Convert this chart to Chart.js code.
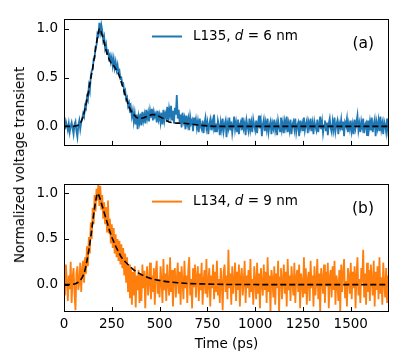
<!DOCTYPE html>
<html lang="en">
<head>
    <meta charset="UTF-8">
    <title>Normalized voltage transient</title>
    <script src="https://cdn.jsdelivr.net/npm/chart.js"></script>
    <style>
        body { margin: 0; background: #fff; }
        .wrap { position: relative; width: 415px; height: 364px; }
        .panel { position: absolute; left: 0; width: 415px; }
        #panelA { top: 0; height: 160px; }
        #panelB { top: 170px; height: 194px; }
        .ylab {
            position: absolute; left: 19px; top: 165px;
            transform: translate(-50%, -50%) rotate(-90deg);
            font: 13.5px 'DejaVu Sans', sans-serif; white-space: nowrap; color: #000;
        }
    </style>
</head>
<body>
    <div class="wrap">
        <div class="panel" id="panelA"><canvas id="chartA"></canvas></div>
        <div class="panel" id="panelB"><canvas id="chartB"></canvas></div>
        <div class="ylab">Normalized voltage transient</div>
    </div>

    <script>
        // sample times (ps)
        const times = [
            0,5,10,15,20,25,30,35,40,45,50,55,60,65,70,75,80,85,90,95,
            100,105,110,115,120,125,130,135,140,145,150,155,160,165,170,175,180,185,190,195,
            200,205,210,215,220,225,230,235,240,245,250,255,260,265,270,275,280,285,290,295,
            300,305,310,315,320,325,330,335,340,345,350,355,360,365,370,375,380,385,390,395,
            400,405,410,415,420,425,430,435,440,445,450,455,460,465,470,475,480,485,490,495,
            500,505,510,515,520,525,530,535,540,545,550,555,560,565,570,575,580,585,590,595,
            600,605,610,615,620,625,630,635,640,645,650,655,660,665,670,675,680,685,690,695,
            700,705,710,715,720,725,730,735,740,745,750,755,760,765,770,775,780,785,790,795,
            800,805,810,815,820,825,830,835,840,845,850,855,860,865,870,875,880,885,890,895,
            900,905,910,915,920,925,930,935,940,945,950,955,960,965,970,975,980,985,990,995,
            1000,1005,1010,1015,1020,1025,1030,1035,1040,1045,1050,1055,1060,1065,1070,1075,1080,1085,1090,1095,
            1100,1105,1110,1115,1120,1125,1130,1135,1140,1145,1150,1155,1160,1165,1170,1175,1180,1185,1190,1195,
            1200,1205,1210,1215,1220,1225,1230,1235,1240,1245,1250,1255,1260,1265,1270,1275,1280,1285,1290,1295,
            1300,1305,1310,1315,1320,1325,1330,1335,1340,1345,1350,1355,1360,1365,1370,1375,1380,1385,1390,1395,
            1400,1405,1410,1415,1420,1425,1430,1435,1440,1445,1450,1455,1460,1465,1470,1475,1480,1485,1490,1495,
            1500,1505,1510,1515,1520,1525,1530,1535,1540,1545,1550,1555,1560,1565,1570,1575,1580,1585,1590,1595,
            1600,1605,1610,1615,1620,1625,1630,1635,1640,1645,1650,1655,1660,1665,1670,1675,1680,1685,1690,1695,
            1700];

        // L135, d = 6 nm (measured)
        const valuesA = [
            0.02,-0.03,0.05,0.01,-0.04,0.03,-0.06,0.00,0.04,-0.02,-0.08,0.02,0.05,-0.05,-0.11,0.01,0.06,-0.03,0.04,0.08,
            0.13,0.10,0.21,0.19,0.30,0.27,0.41,0.36,0.51,0.57,0.58,0.69,0.70,0.82,0.83,0.95,0.93,1.06,0.97,1.04,
            0.98,0.88,0.92,0.80,0.84,0.74,0.79,0.70,0.73,0.66,0.71,0.62,0.69,0.60,0.66,0.58,0.63,0.55,0.57,0.49,
            0.50,0.43,0.44,0.35,0.37,0.28,0.30,0.21,0.24,0.14,0.19,0.10,0.16,0.05,0.13,0.02,0.12,-0.03,0.10,0.04,
            0.13,0.01,0.15,0.06,0.12,0.03,0.17,0.08,0.14,0.05,0.16,0.09,0.18,0.06,0.15,0.10,0.13,0.04,0.16,0.07,
            0.12,0.04,0.14,0.02,0.17,0.06,0.13,0.09,0.20,0.05,0.18,0.11,0.21,0.07,0.16,0.03,0.19,0.12,0.32,0.08,
            0.17,0.04,0.12,-0.01,0.14,0.05,0.09,-0.03,0.11,0.02,0.08,-0.04,0.10,0.03,0.06,-0.05,0.09,0.01,0.07,-0.02,
            0.05,-0.06,0.08,0.00,-0.03,0.06,-0.07,0.03,0.09,-0.02,0.04,-0.08,0.02,0.07,-0.04,0.05,-0.01,0.12,-0.05,0.03,
            -0.06,0.06,0.01,-0.09,0.04,-0.03,0.08,-0.05,0.02,0.06,-0.11,0.03,-0.02,0.09,-0.04,0.05,-0.07,0.01,0.10,-0.03,
            0.04,-0.05,0.07,-0.08,0.02,0.05,-0.04,0.09,-0.02,0.03,-0.09,0.06,0.00,-0.05,0.08,-0.03,0.04,-0.06,0.07,0.01,
            -0.04,0.06,-0.07,0.03,0.11,-0.02,0.05,-0.10,0.02,0.07,-0.05,0.04,-0.03,0.08,-0.06,0.01,0.05,-0.08,0.03,-0.02,
            0.07,-0.04,0.02,-0.09,0.06,0.00,-0.05,0.09,-0.03,0.04,-0.07,0.05,-0.01,0.10,-0.06,0.03,-0.04,0.07,-0.08,0.02,
            0.05,-0.03,0.08,-0.06,0.01,0.04,-0.10,0.06,-0.02,0.03,-0.05,0.09,-0.04,0.02,0.06,-0.07,0.04,-0.01,0.08,-0.05,
            0.03,-0.08,0.05,0.00,-0.04,0.07,-0.06,0.02,0.10,-0.03,0.05,-0.07,0.01,0.06,-0.05,0.04,-0.09,0.03,0.08,-0.02,
            -0.06,0.05,-0.03,0.09,-0.05,0.02,0.06,-0.08,0.03,-0.01,0.07,-0.04,0.05,-0.10,0.04,0.01,0.08,-0.06,0.03,-0.03,
            0.06,-0.05,0.02,-0.08,0.07,-0.02,0.04,0.11,-0.04,0.03,-0.06,0.05,-0.01,0.08,-0.07,0.02,0.04,-0.09,0.06,-0.03,
            0.05,-0.04,0.09,-0.06,0.02,0.07,-0.10,0.04,-0.02,0.06,-0.05,0.10,-0.03,0.03,-0.08,0.05,0.01,-0.06,0.08,-0.04,
            0.02];

        // L134, d = 9 nm (measured)
        const valuesB = [
            0.15,-0.12,0.22,0.04,-0.18,0.10,-0.05,0.25,-0.20,0.08,0.18,-0.10,-0.28,0.12,0.20,-0.06,0.03,0.24,-0.08,0.16,
            0.26,0.02,0.30,0.12,0.42,0.20,0.52,0.34,0.68,0.50,0.84,0.66,0.98,0.80,1.05,0.92,1.12,0.86,1.08,0.82,
            0.98,0.72,0.90,0.66,0.85,0.58,0.92,0.56,0.72,0.45,0.66,0.40,0.62,0.34,0.55,0.30,0.50,0.26,0.48,0.22,
            0.44,0.18,0.40,0.10,0.34,0.02,0.30,-0.08,0.22,-0.15,0.18,-0.22,0.14,-0.12,0.20,-0.25,0.10,-0.06,0.16,-0.20,
            0.12,-0.18,0.22,-0.04,0.15,-0.26,0.08,0.20,-0.12,0.02,0.24,-0.16,0.10,-0.08,0.18,-0.22,0.14,0.26,-0.10,0.06,
            -0.14,0.20,0.04,-0.20,0.28,-0.06,0.12,-0.18,0.22,0.00,-0.12,0.30,-0.08,0.16,-0.24,0.10,0.18,-0.14,0.06,0.24,
            -0.10,0.14,-0.22,0.20,0.02,-0.16,0.26,-0.04,0.10,-0.20,0.16,0.30,-0.12,0.06,-0.26,0.18,-0.02,0.22,-0.14,0.08,
            0.20,-0.18,0.12,-0.06,0.24,-0.22,0.04,0.16,-0.10,0.28,-0.14,0.02,0.18,-0.24,0.10,-0.04,0.22,-0.16,0.14,-0.08,
            0.26,-0.12,0.06,-0.20,0.18,0.02,-0.28,0.14,0.22,-0.08,0.10,-0.16,0.38,-0.04,0.12,-0.22,0.20,-0.10,0.04,0.24,
            -0.18,0.14,-0.06,0.22,-0.24,0.08,0.18,-0.12,0.02,0.26,-0.20,0.10,-0.04,0.16,-0.14,0.28,-0.08,0.06,-0.22,0.20,
            0.04,-0.16,0.24,-0.10,0.12,-0.26,0.18,0.00,-0.12,0.22,-0.06,0.14,-0.20,0.30,-0.08,0.10,-0.30,0.16,0.06,-0.14,
            0.20,-0.22,0.12,-0.04,0.26,-0.30,0.08,0.18,-0.16,0.04,0.22,-0.10,0.14,-0.24,0.28,-0.06,0.10,-0.18,0.20,0.02,
            -0.12,0.24,-0.20,0.08,0.16,-0.08,0.22,-0.26,0.12,0.02,-0.14,0.30,-0.10,0.18,-0.22,0.06,0.14,-0.18,0.26,-0.04,
            0.10,-0.24,0.20,-0.12,0.04,0.28,-0.16,0.12,-0.30,0.18,0.06,-0.10,0.22,-0.20,0.14,-0.02,0.24,-0.26,0.08,0.16,
            -0.14,0.20,-0.06,0.26,-0.22,0.10,0.02,-0.18,0.16,-0.30,0.22,-0.08,0.12,0.28,-0.14,0.04,-0.24,0.18,0.08,-0.10,
            0.24,-0.16,0.14,-0.04,0.20,-0.26,0.10,0.30,-0.12,0.06,-0.20,0.18,0.02,0.38,-0.14,0.12,-0.22,0.24,-0.08,0.16,
            -0.18,0.22,0.04,-0.12,0.26,-0.24,0.14,-0.06,0.20,-0.16,0.30,-0.10,0.08,-0.22,0.24,0.02,-0.14,0.18,-0.20,0.10,
            -0.04];

        // fitted curves (dashed)
        const fitTimesA = [0,50,60,70,80,90,100,110,120,130,140,150,160,170,180,185,190,200,210,220,230,240,250,260,270,280,290,
            300,310,320,330,340,350,360,370,380,390,400,410,420,430,440,450,460,470,480,490,500,510,520,530,540,550,560,570,
            600,640,680,720,750,800,1000,1200,1400,1700];
        const fitValuesA = [0,0,0.005,0.01,0.02,0.05,0.1,0.18,0.28,0.38,0.49,0.6,0.72,0.85,0.96,1.0,0.99,0.93,0.86,0.78,0.72,0.67,0.64,0.62,0.59,0.56,0.51,
            0.45,0.39,0.32,0.26,0.2,0.16,0.13,0.11,0.09,0.085,0.08,0.085,0.09,0.1,0.11,0.115,0.12,0.12,0.115,0.11,0.1,0.09,0.08,0.065,0.055,0.045,0.04,0.035,
            0.033,0.03,0.02,0.01,0.005,0,0,0,0,0];

        const fitTimesB = [0,20,40,60,70,80,90,100,110,120,130,140,150,160,170,177,180,190,200,210,220,230,240,250,260,270,280,290,
            300,320,340,360,380,400,425,450,475,500,550,600,650,700,800,900,1100,1400,1700];
        const fitValuesB = [0,0,0.003,0.01,0.02,0.035,0.06,0.1,0.16,0.26,0.38,0.52,0.68,0.84,0.96,1.0,0.99,0.93,0.86,0.79,0.72,0.65,0.58,0.52,0.47,0.42,0.38,0.34,
            0.30,0.25,0.21,0.17,0.14,0.115,0.09,0.07,0.055,0.045,0.03,0.02,0.012,0.008,0.003,0.001,0,0,0];

        const xTicks = [0, 250, 500, 750, 1000, 1250, 1500];
        const yTicks = [0, 0.5, 1.0];

        Chart.defaults.font.family = "'DejaVu Sans', sans-serif";
        Chart.defaults.font.size = 13.5;
        Chart.defaults.color = '#000';

        // box, inward ticks, legend and panel tag
        const framePlugin = {
            id: 'frame',
            afterDraw(chart, args, opts) {
                const { ctx, chartArea: a, scales } = chart;
                ctx.save();
                ctx.strokeStyle = '#000';
                ctx.lineWidth = 1;
                ctx.strokeRect(Math.round(a.left) + 0.5, Math.round(a.top) + 0.5,
                    Math.round(a.right - a.left) - 1, Math.round(a.bottom - a.top) - 1);
                ctx.beginPath();
                scales.x.ticks.forEach(t => {
                    const px = Math.round(scales.x.getPixelForValue(t.value)) + 0.5;
                    ctx.moveTo(px, a.bottom);
                    ctx.lineTo(px, a.bottom - 5);
                });
                scales.y.ticks.forEach(t => {
                    const py = Math.round(scales.y.getPixelForValue(t.value)) + 0.5;
                    ctx.moveTo(a.left, py);
                    ctx.lineTo(a.left + 5, py);
                });
                ctx.stroke();

                // legend
                const ly = a.top + 17.5;
                ctx.strokeStyle = opts.color;
                ctx.lineWidth = 2;
                ctx.beginPath();
                ctx.moveTo(a.left + 88, ly);
                ctx.lineTo(a.left + 118, ly);
                ctx.stroke();
                ctx.fillStyle = '#000';
                ctx.textBaseline = 'middle';
                ctx.textAlign = 'left';
                let tx = a.left + 129;
                opts.parts.forEach(p => {
                    ctx.font = (p.italic ? 'italic ' : '') + "13.5px 'DejaVu Sans', sans-serif";
                    ctx.fillText(p.text, tx, ly);
                    tx += ctx.measureText(p.text).width;
                });
                ctx.font = "15.5px 'DejaVu Sans', sans-serif";
                ctx.textAlign = 'right';
                ctx.fillText(opts.tag, a.right - 15, a.top + 25);
                ctx.restore();
            }
        };

        function makePanel(id, values, fitTimes, fitValues, color, yMin, parts, tag, showX) {
            const data = times.map((t, i) => ({ x: t, y: values[i] }));
            const fit = fitTimes.map((t, i) => ({ x: t, y: fitValues[i] }));
            return new Chart(document.getElementById(id), {
                type: 'line',
                data: {
                    datasets: [{
                        data: fit,
                        borderColor: '#000',
                        borderWidth: 1.6,
                        borderDash: [6, 3],
                        pointRadius: 0,
                        cubicInterpolationMode: 'monotone',
                        fill: false
                    }, {
                        data: data,
                        borderColor: color,
                        borderWidth: 1.8,
                        pointRadius: 0,
                        tension: 0,
                        fill: false
                    }]
                },
                options: {
                    responsive: true,
                    maintainAspectRatio: false,
                    animation: false,
                    events: [],
                    layout: { padding: { left: 0, right: 26, top: showX ? 9 : 19, bottom: 0 } },
                    plugins: {
                        legend: { display: false },
                        tooltip: { enabled: false },
                        frame: { color: color, parts: parts, tag: tag }
                    },
                    scales: {
                        x: {
                            type: 'linear',
                            min: 0,
                            max: 1700,
                            grid: { display: false, drawTicks: false },
                            border: { display: false },
                            afterBuildTicks: s => { s.ticks = xTicks.map(v => ({ value: v })); },
                            afterFit: s => { s.height = showX ? 52 : 8; },
                            ticks: { display: showX, padding: 4, maxRotation: 0, callback: v => String(v) },
                            title: { display: showX, text: 'Time (ps)', padding: { top: 4, bottom: 11 } }
                        },
                        y: {
                            min: yMin,
                            max: 1.1,
                            grid: { display: false, drawTicks: false },
                            border: { display: false },
                            afterBuildTicks: s => { s.ticks = yTicks.map(v => ({ value: v })); },
                            afterFit: s => { s.width = 64; },
                            ticks: { padding: 6, callback: v => v.toFixed(1) }
                        }
                    }
                },
                plugins: [framePlugin]
            });
        }

        makePanel('chartA', valuesA, fitTimesA, fitValuesA, '#1f77b4', -0.2,
            [{ text: 'L135, ' }, { text: 'd', italic: true }, { text: ' = 6 nm' }], '(a)', false);
        makePanel('chartB', valuesB, fitTimesB, fitValuesB, '#ff7f0e', -0.3,
            [{ text: 'L134, ' }, { text: 'd', italic: true }, { text: ' = 9 nm' }], '(b)', true);
    </script>
</body>
</html>
